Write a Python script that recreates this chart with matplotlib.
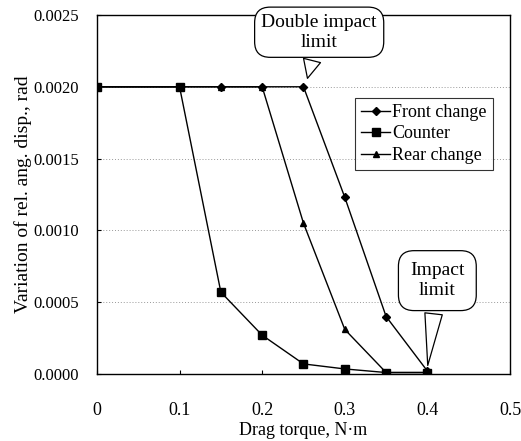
import numpy as np
import matplotlib
matplotlib.use('Agg')
import matplotlib.pyplot as plt

plt.rcParams['font.family'] = ['Liberation Serif', 'DejaVu Serif']

# drag torque (N.m)
torque = [0, 0.1, 0.15, 0.2, 0.25, 0.3, 0.35, 0.4]
# variation of relative angular displacement (rad)
front = [0.002, 0.002, 0.002, 0.002, 0.002, 0.00123, 0.00040, 0.00002]
counter = [0.002, 0.002, 0.00057, 0.00027, 0.00007, 0.000035, 0.00001, 0.00001]
rear = [0.002, 0.002, 0.002, 0.002, 0.00105, 0.00031, 0.00001, 0.00001]

xticks = [0, 0.1, 0.2, 0.3, 0.4, 0.5]
xticklabels = ['0', '0.1', '0.2', '0.3', '0.4', '0.5']
yticks = [0, 0.0005, 0.001, 0.0015, 0.002, 0.0025]

fig = plt.figure(figsize=(5.21, 4.41), dpi=100)
ax = fig.add_axes([0.186, 0.152, 0.793, 0.814])

ax.plot(torque, counter, 'k-', marker='s', ms=6, lw=1, label='Counter', zorder=3)
ax.plot(torque, rear, 'k-', marker='^', ms=5, lw=1, label='Rear change', zorder=4)
ax.plot(torque, front, 'k-', marker='D', ms=4, lw=1, label='Front change', zorder=5)

ax.set_xlim(0, 0.5)
ax.set_ylim(0, 0.0025)
ax.set_xticks(xticks)
ax.set_xticklabels(xticklabels)
ax.set_yticks(yticks)
ax.set_yticklabels(['%.4f' % v for v in yticks])
ax.tick_params(direction='in', length=3)
ax.tick_params(axis='x', pad=20, labelsize=13)
ax.tick_params(axis='y', pad=13, labelsize=12)

for y in yticks[1:-1]:
    ax.axhline(y, color='#999999', ls=(0, (1, 2)), lw=0.7, zorder=1)

for s in ax.spines.values():
    s.set_linewidth(1)

ax.set_xlabel('Drag torque, N\u00b7m', fontsize=13, labelpad=2)
ax.set_ylabel('Variation of rel. ang. disp., rad', fontsize=14, labelpad=1)

h, l = ax.get_legend_handles_labels()
order = [2, 0, 1]
leg = ax.legend([h[i] for i in order], [l[i] for i in order], loc='upper right',
                bbox_to_anchor=(0.958, 0.77), fontsize=13, frameon=True, fancybox=False,
                handlelength=1.6, handletextpad=0.1, borderpad=0.35, labelspacing=0.25,
                borderaxespad=0)
leg.get_frame().set_edgecolor('black')
leg.get_frame().set_linewidth(0.8)

ax.annotate('Double impact\nlimit', xy=(0.254, 0.00204), xytext=(0.269, 0.00238),
            ha='center', va='center', fontsize=14, annotation_clip=False,
            bbox=dict(boxstyle='round,pad=0.35,rounding_size=0.8', fc='white', ec='black', lw=0.9),
            arrowprops=dict(arrowstyle='wedge,tail_width=0.9,shrink_factor=0.5',
                            fc='white', ec='black', lw=0.9), zorder=6)
ax.annotate('Impact\nlimit', xy=(0.4, 0.00004), xytext=(0.412, 0.00065),
            ha='center', va='center', fontsize=14,
            bbox=dict(boxstyle='round,pad=0.6,rounding_size=0.8', fc='white', ec='black', lw=0.9),
            arrowprops=dict(arrowstyle='wedge,tail_width=0.9,shrink_factor=0.5',
                            fc='white', ec='black', lw=0.9), zorder=6)

fig.savefig('out.png', dpi=100)
